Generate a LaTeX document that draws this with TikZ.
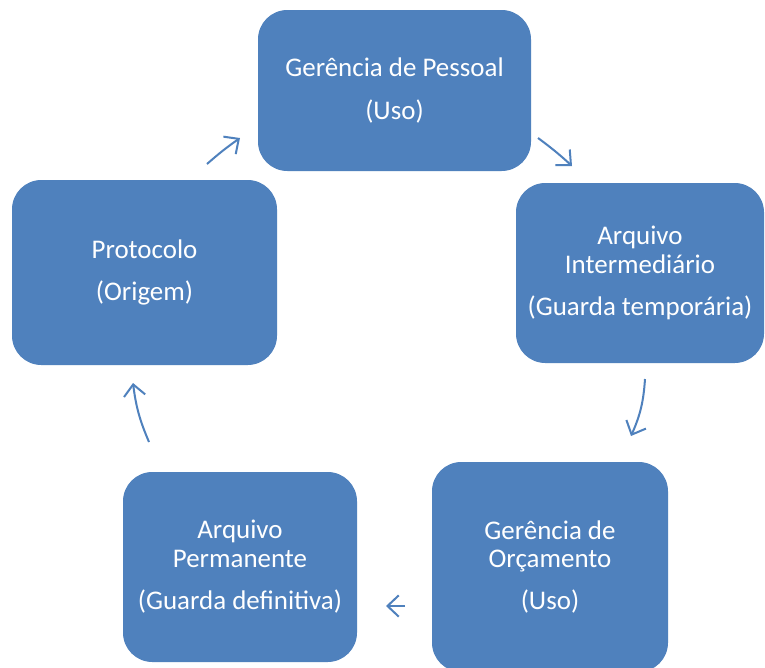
\documentclass[tikz,border=0pt]{standalone}
\usepackage{fontspec}
\setmainfont{Carlito}
\usetikzlibrary{arrows.meta}
\definecolor{boxblue}{HTML}{4F81BD}
\begin{document}
\begin{tikzpicture}[x=0.75pt,y=-0.75pt,
  box/.style={fill=boxblue, rounded corners=22pt, text=white, align=center,
    font=\fontsize{20.2}{21.6}\selectfont, inner sep=0pt},
  cyc/.style={draw=boxblue, line width=1.5pt,
    -{Straight Barb[length=8.5pt,width=16pt,line width=1.5pt]}}]
\path[use as bounding box, fill=white] (0,0) rectangle (765,668);
\node[box, minimum width=204.75pt, minimum height=120.75pt] (pessoal) at (394.5,90.5) {Gerência de Pessoal\\[10pt](Uso)};
\node[box, minimum width=186pt, minimum height=135pt] (interm) at (640,273) {Arquivo\\Intermediário\\[10pt](Guarda temporária)};
\node[box, minimum width=177pt, minimum height=157.5pt] (orc) at (550,567) {Gerência de\\Orçamento\\[10pt](Uso)};
\node[box, minimum width=175.5pt, minimum height=142.5pt] (perm) at (240,567) {Arquivo\\Permanente\\[10pt](Guarda definitiva)};
\node[box, minimum width=198.75pt, minimum height=138.75pt] (proto) at (144.5,272.5) {Protocolo\\[10pt](Origem)};
\coordinate (a1s) at (207,164); \coordinate (a1e) at (240,138);
\coordinate (a2s) at (538,138); \coordinate (a2e) at (572,166);
\coordinate (a3s) at (645,379); \coordinate (a3e) at (631,436);
\coordinate (a4s) at (405,606); \coordinate (a4e) at (386,606);
\coordinate (a5s) at (149,442); \coordinate (a5e) at (133,383);
\draw[cyc] (a1s) to[bend left=3] (a1e);
\draw[cyc] (a2s) to[bend left=3] (a2e);
\draw[cyc] (a3s) to[bend left=10] (a3e);
\draw[cyc] (a4s) to (a4e);
\draw[cyc] (a5s) to[bend left=8] (a5e);
\end{tikzpicture}
\end{document}
